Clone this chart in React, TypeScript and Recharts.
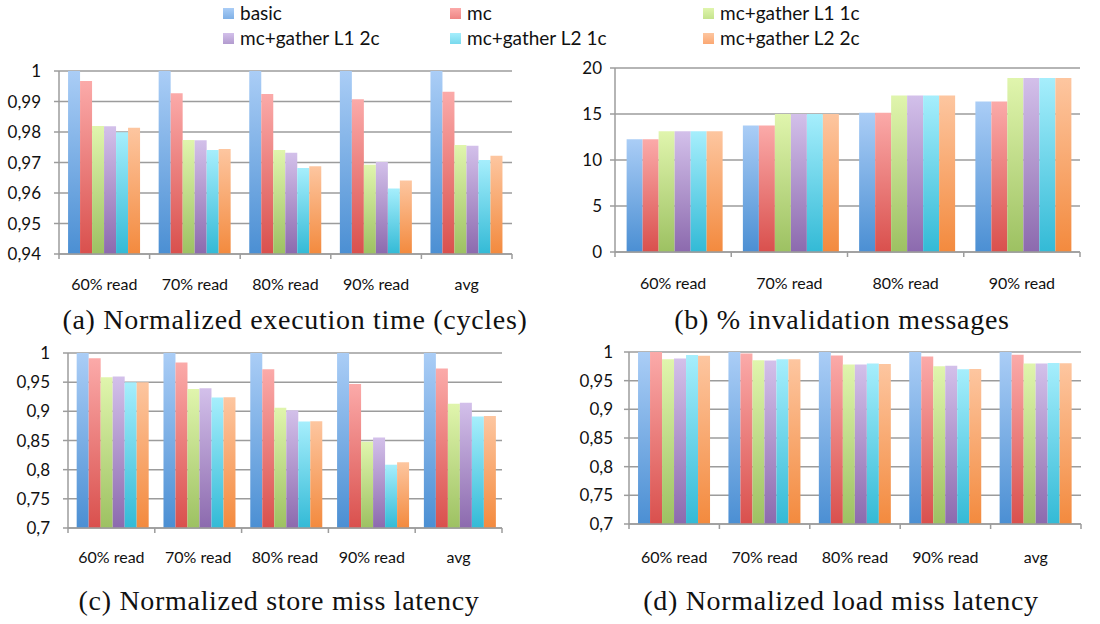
import { BarChart, Bar, XAxis, YAxis, CartesianGrid } from 'recharts';

const readCats = ['60% read', '70% read', '80% read', '90% read', 'avg'];
const invalCats = ['60% read', '70% read', '80% read', '90% read'];
const seriesNames = ['basic', 'mc', 'mc+gather L1 1c', 'mc+gather L1 2c', 'mc+gather L2 1c', 'mc+gather L2 2c'];
const seriesTop = ['#aacdf6', '#fbaaa9', '#e0f5ad', '#d3c0ea', '#a6eefc', '#fdc6a0'];
const seriesBottom = ['#4b8fd3', '#d9504d', '#9dc162', '#8c6aae', '#33bad6', '#f38a3e'];
const legendColors = ['#7fb0e6', '#ef8584', '#c4e38d', '#b29bcf', '#78d9ed', '#fba873'];

// (a) normalized execution time
const execBasic = [1, 1, 1, 1, 1];
const execMc = [0.9967, 0.9927, 0.9925, 0.9907, 0.9932];
const execL1c1 = [0.982, 0.9774, 0.9741, 0.9693, 0.9757];
const execL1c2 = [0.9819, 0.9773, 0.9732, 0.9702, 0.9755];
const execL2c1 = [0.9799, 0.9741, 0.9682, 0.9615, 0.9708];
const execL2c2 = [0.9814, 0.9744, 0.9688, 0.9641, 0.9722];

// (b) % invalidation messages
const invBasic = [12.25, 13.75, 15.13, 16.36];
const invMc = [12.25, 13.75, 15.13, 16.36];
const invL1c1 = [13.13, 15.0, 17.02, 18.9];
const invL1c2 = [13.13, 15.0, 17.02, 18.9];
const invL2c1 = [13.13, 15.0, 17.02, 18.9];
const invL2c2 = [13.13, 15.0, 17.02, 18.9];

// (c) normalized store miss latency
const storeBasic = [1, 1, 1, 1, 1];
const storeMc = [0.9908, 0.9839, 0.9723, 0.947, 0.9735];
const storeL1c1 = [0.9585, 0.9383, 0.906, 0.848, 0.913];
const storeL1c2 = [0.9596, 0.9394, 0.902, 0.855, 0.9147];
const storeL2c1 = [0.95, 0.9239, 0.8824, 0.8085, 0.891];
const storeL2c2 = [0.95, 0.924, 0.883, 0.8126, 0.892];

// (d) normalized load miss latency
const loadBasic = [1, 1, 1, 1, 1];
const loadMc = [1, 0.9976, 0.994, 0.992, 0.995];
const loadL1c1 = [0.9875, 0.9857, 0.978, 0.975, 0.98];
const loadL1c2 = [0.9887, 0.985, 0.978, 0.976, 0.98];
const loadL2c1 = [0.9946, 0.9875, 0.98, 0.97, 0.981];
const loadL2c2 = [0.9935, 0.9875, 0.979, 0.9705, 0.9805];

const execTicks = [0.94, 0.95, 0.96, 0.97, 0.98, 0.99, 1];
const invTicks = [0, 5, 10, 15, 20];
const latTicks = [0.7, 0.75, 0.8, 0.85, 0.9, 0.95, 1];

function build(cats: string[], cols: number[][]) {
  return cats.map((c, i) => {
    const row: any = { cat: c };
    cols.forEach((col, k) => { row['s' + k] = col[i]; });
    return row;
  });
}

const fmt = (v: number) => String(v).replace('.', ',');
const gridGray = '#9c9c9c';
const sansFont = 'Lato, "Open Sans", sans-serif';

// category label plus the small tick marks at the band edges (Excel style)
function CatTick(props: any) {
  const { x, y, payload, index, visibleTicksCount, width, tickMargin } = props;
  const bw = width / visibleTicksCount;
  const axisY = y - tickMargin;
  const edges = [x - bw / 2];
  if (index === visibleTicksCount - 1) edges.push(x + bw / 2);
  return (
    <g>
      {edges.map((ex, i) => (
        <line key={i} x1={ex} x2={ex} y1={axisY} y2={axisY + 5} stroke={gridGray} strokeWidth={1.5} />
      ))}
      <text x={x} y={y} dy="0.71em" textAnchor="middle" fill="#111" fontSize={16} fontFamily={sansFont}>
        {payload.value}
      </text>
    </g>
  );
}

function Panel(props: any) {
  const { id, left, top, width, height, data, domain, ticks, yWidth, margin, xHeight, xTickMargin, yTickMargin } = props;
  return (
    <div style={{ position: 'absolute', left, top }}>
      <BarChart width={width} height={height} data={data} margin={margin} barCategoryGap="10%" barGap={0}>
        <defs>
          {seriesNames.map((_, k) => (
            <linearGradient key={k} id={`${id}g${k}`} x1="0" y1="0" x2="0" y2="1">
              <stop offset="0%" stopColor={seriesTop[k]} />
              <stop offset="100%" stopColor={seriesBottom[k]} />
            </linearGradient>
          ))}
        </defs>
        <CartesianGrid vertical={false} stroke={gridGray} strokeWidth={1.5} />
        <XAxis dataKey="cat" stroke={gridGray} strokeWidth={1.5} tickLine={false} tickSize={0}
          height={xHeight} tickMargin={xTickMargin} interval={0}
          tick={(p: any) => <CatTick {...p} tickMargin={xTickMargin} />} />
        <YAxis domain={domain} ticks={ticks} width={yWidth} tickFormatter={fmt} interval={0}
          stroke={gridGray} strokeWidth={1.5} tickSize={5} tickMargin={yTickMargin}
          tick={{ fill: '#111', fontSize: 17, fontFamily: sansFont }} />
        {seriesNames.map((name, k) => (
          <Bar key={k} dataKey={'s' + k} name={name} fill={`url(#${id}g${k})`} isAnimationActive={false} />
        ))}
      </BarChart>
    </div>
  );
}

function Caption({ x, y, text }: { x: number; y: number; text: string }) {
  return (
    <div style={{ position: 'absolute', left: x - 300, top: y, width: 600, textAlign: 'center',
      fontFamily: '"Liberation Serif", serif', fontSize: 28, letterSpacing: 0.7, color: '#111', whiteSpace: 'nowrap' }}>
      {text}
    </div>
  );
}

const legendCols = [
  { sq: 223, tx: 240 },
  { sq: 450, tx: 467 },
  { sq: 703, tx: 720 },
];
const legendRows = [13, 38];

export default function App() {
  const execData = build(readCats, [execBasic, execMc, execL1c1, execL1c2, execL2c1, execL2c2]);
  const invData = build(invalCats, [invBasic, invMc, invL1c1, invL1c2, invL2c1, invL2c2]);
  const storeData = build(readCats, [storeBasic, storeMc, storeL1c1, storeL1c2, storeL2c1, storeL2c2]);
  const loadData = build(readCats, [loadBasic, loadMc, loadL1c1, loadL1c2, loadL2c1, loadL2c2]);

  return (
    <div style={{ position: 'absolute', left: 0, top: 0, width: 1100, height: 624, background: '#fff', overflow: 'hidden' }}>
      {seriesNames.map((name, k) => {
        const col = legendCols[k % 3];
        const row = legendRows[Math.floor(k / 3)];
        return (
          <div key={k}>
            <div style={{ position: 'absolute', left: col.sq, top: row - 5, width: 11, height: 11,
              background: `linear-gradient(${seriesTop[k]}, ${legendColors[k]})` }} />
            <div style={{ position: 'absolute', left: col.tx, top: row - 12, fontFamily: sansFont,
              fontSize: 19, color: '#111', lineHeight: '24px', whiteSpace: 'nowrap' }}>{name}</div>
          </div>
        );
      })}

      <Panel id="a" left={0} top={55} width={520} height={245} data={execData} domain={[0.94, 1]} ticks={execTicks}
        yWidth={59} margin={{ top: 16, right: 8, bottom: 0, left: 0 }} xHeight={46} xTickMargin={25} yTickMargin={13} />
      <Panel id="b" left={560} top={55} width={540} height={245} data={invData} domain={[0, 20]} ticks={invTicks}
        yWidth={55} margin={{ top: 13, right: 20, bottom: 0, left: 0 }} xHeight={48} xTickMargin={26} yTickMargin={8} />
      <Panel id="c" left={0} top={340} width={510} height={245} data={storeData} domain={[0.7, 1]} ticks={latTicks}
        yWidth={68} margin={{ top: 13, right: 8, bottom: 0, left: 0 }} xHeight={57} xTickMargin={24} yTickMargin={13} />
      <Panel id="d" left={560} top={340} width={540} height={245} data={loadData} domain={[0.7, 1]} ticks={latTicks}
        yWidth={69} margin={{ top: 12, right: 19, bottom: 0, left: 0 }} xHeight={61} xTickMargin={28} yTickMargin={11} />

      <Caption x={295} y={304} text="(a) Normalized execution time (cycles)" />
      <Caption x={842} y={304} text="(b) % invalidation messages" />
      <Caption x={279} y={585} text="(c) Normalized store miss latency" />
      <Caption x={841} y={585} text="(d) Normalized load miss latency" />
    </div>
  );
}
